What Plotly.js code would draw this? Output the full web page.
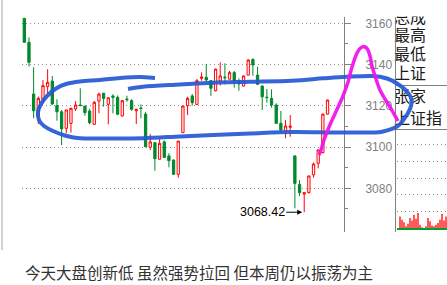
<!DOCTYPE html>
<html><head><meta charset="utf-8">
<script src="https://cdn.plot.ly/plotly-3.0.1.min.js"></script>
<style>html,body{margin:0;padding:0;background:#fff;}#chart{width:447px;height:285px;}</style>
</head><body><div id="chart"></div>
<script>
// ---- data ----
const openP  = [3162.4,3150.8,3125.7,3115.1,3123.2,3129.3,3132.0,3120.1,3117.1,3109.1,3111.5,3118.5,3120.4,3119.9,3117.5,3111.0,3122.3,3126.1,3120.7,3124.8,3124.1,3115.1,3123.3,3122.5,3117.6,3118.9,3116.0,3099.9,3102.1,3094.1,3102.5,3095.7,3093.7,3086.8,3107.0,3120.1,3124.8,3120.7,3133.3,3133.8,3132.2,3127.3,3132.0,3133.9,3132.9,3136.1,3132.2,3129.6,3134.9,3142.5,3134.9,3129.6,3124.2,3123.6,3120.4,3111.5,3107.9,3109.6,3095.7,3081.9,3077.2,3077.9,3086.5,3092.1,3097.3,3116.0];
const highP  = [3162.6,3153.2,3138.7,3124.5,3132.5,3137.7,3134.5,3123.2,3118.0,3118.0,3119.0,3122.3,3128.5,3120.0,3118.5,3122.3,3126.4,3126.3,3124.0,3125.6,3125.0,3122.8,3124.9,3123.2,3118.5,3120.7,3117.1,3106.3,3102.3,3103.9,3103.3,3097.0,3094.0,3103.0,3120.0,3124.4,3125.7,3133.0,3136.2,3140.3,3132.4,3138.0,3141.1,3140.6,3137.0,3137.0,3133.3,3134.7,3142.7,3143.0,3138.9,3129.8,3128.2,3128.0,3121.2,3117.5,3113.1,3115.5,3096.0,3084.0,3078.0,3086.2,3092.5,3098.8,3116.2,3123.0];
const lowP   = [3150.5,3139.0,3114.0,3111.2,3121.2,3126.1,3120.4,3112.8,3101.0,3106.7,3107.0,3117.5,3120.0,3115.2,3111.0,3110.8,3116.4,3119.6,3111.0,3116.4,3115.5,3114.8,3122.0,3117.6,3111.2,3113.9,3099.9,3098.6,3088.5,3094.0,3094.8,3090.2,3086.5,3085.1,3106.8,3115.5,3120.1,3120.5,3132.2,3131.7,3124.8,3127.0,3129.8,3130.4,3132.7,3128.8,3127.3,3129.4,3134.7,3134.6,3130.2,3118.0,3121.5,3119.1,3111.3,3106.7,3104.3,3105.0,3070.3,3076.3,3068.42,3077.5,3085.2,3089.7,3097.0,3115.8];
const closeP = [3150.8,3141.1,3117.6,3123.6,3129.8,3131.4,3120.9,3117.1,3108.8,3118.0,3118.8,3120.4,3120.1,3116.7,3111.8,3121.7,3125.7,3123.6,3123.9,3124.1,3115.9,3122.5,3123.0,3118.3,3118.3,3118.7,3100.2,3102.5,3094.4,3101.8,3095.0,3093.4,3086.8,3102.9,3119.9,3123.6,3121.5,3132.2,3134.0,3132.5,3128.5,3137.8,3134.5,3133.6,3136.1,3132.0,3130.6,3134.5,3142.2,3139.8,3130.4,3124.4,3124.0,3120.4,3111.5,3108.3,3110.2,3110.1,3082.4,3077.9,3077.9,3086.0,3091.8,3098.6,3116.0,3122.8];
const barIndex = openP.map((_, i) => i);
const yTickVals = [3080, 3100, 3120, 3140, 3160];
const yTickText = ['3080', '3100', '3120', '3140', '3160'];
const yMinorVals = [3070, 3090, 3110, 3130, 3150];
const lowIndex = 60;
const lowValue = 3068.42;
const lowLabel = '3068.42';
const volValues = [0, 0.7, 0.5, 0.35, 0.1, 0.25, 0.6, 0.45, 0.8, 0.55, 0.9, 0.2, 0.05, 0, 0.1, 0.6, 0.4, 0.15, 0.1, 0.2, 0.3, 0.5, 0.85, 0.45, 0.7];
const volIndex = volValues.map((_, i) => i);
const panelLabels = ['总成', '最高', '最低', '上证', '张家', '上证指'];
const caption = '今天大盘创新低 虽然强势拉回 但本周仍以振荡为主';

// ---- hand-drawn marker strokes (page pixels) ----
const blueStroke = [[155,78],[140,77],[120,78],[100,80],[80,81.5],[66,84],[56,88.5],[47,96],[41,104],[38,112],[39,120],[44,126],[53,131],[65,135.5],[80,138.3],[110,138.5],[143,138.2],[180,136.5],[213,135],[250,133.5],[292,132],[334,132.5],[372,132.5],[383,131.5],[397,126.5],[404,119],[410,109],[411.5,100],[407,91.5],[397,83.5],[387,78.5],[373,76],[347,76.7],[323,78.3],[292,80.7],[250,81.8],[213,82.7],[180,84.5],[143,86.7],[128,89]];
const pinkStroke = [[319,155],[321,150],[324,140],[329,127],[334,116],[339,105],[343,96],[348,82],[352,67],[357,53],[362,47],[367,48.5],[370,56],[372,66],[376,79],[380,90],[385,99],[390,107],[394,114],[398,121]];

function smoothPath(p){
  let d = 'M' + p[0][0] + ',' + p[0][1];
  for (let i = 0; i < p.length - 1; i++){
    const p0 = p[i-1] || p[i], p1 = p[i], p2 = p[i+1], p3 = p[i+2] || p[i+1];
    const c1 = [p1[0] + (p2[0]-p0[0])/6, p1[1] + (p2[1]-p0[1])/6];
    const c2 = [p2[0] - (p3[0]-p1[0])/6, p2[1] - (p3[1]-p1[1])/6];
    d += ' C' + c1[0].toFixed(2) + ',' + c1[1].toFixed(2) + ' ' + c2[0].toFixed(2) + ',' + c2[1].toFixed(2) + ' ' + p2[0] + ',' + p2[1];
  }
  return d;
}

const W = 447, H = 285;
const cjk = 'Noto Sans CJK SC, sans-serif';

const traces = [
  {
    type: 'candlestick', x: barIndex, open: openP, high: highP, low: lowP, close: closeP,
    xaxis: 'x', yaxis: 'y', whiskerwidth: 0,
    increasing: {line: {color: '#ff0000', width: 1}, fillcolor: '#ffffff'},
    decreasing: {line: {color: '#00892c', width: 1}, fillcolor: '#00892c'},
    hoverinfo: 'skip'
  },
  {
    type: 'bar', x: volIndex, y: volValues, xaxis: 'x2', yaxis: 'y2',
    marker: {color: '#ff0000', line: {width: 0}}, hoverinfo: 'skip'
  },
  {
    type: 'scatter', mode: 'text', xaxis: 'x3', yaxis: 'y3',
    x: panelLabels.map(() => 394),
    y: [18.5, 37, 55.5, 74.5, 98, 119.5],
    text: panelLabels, textposition: 'middle right',
    textfont: {family: cjk, size: 16, color: '#1a1a1a'},
    hoverinfo: 'skip', cliponaxis: false
  }
];

const layout = {
  width: W, height: H,
  margin: {l: 0, r: 0, t: 0, b: 0, pad: 0},
  paper_bgcolor: '#ffffff', plot_bgcolor: 'rgba(0,0,0,0)',
  showlegend: false, bargap: 0.35,
  xaxis: {
    domain: [22/W, 344/W], range: [-0.493, 68.53], anchor: 'y',
    showgrid: false, zeroline: false, showticklabels: false, ticks: '', showline: false,
    rangeslider: {visible: false}, fixedrange: true
  },
  yaxis: {
    domain: [1 - 232/H, 1 - 17/H], range: [3058.83, 3163.06], side: 'right', anchor: 'x',
    showline: true, linecolor: '#808080', linewidth: 1,
    ticks: 'outside', ticklen: 6, tickcolor: '#808080', tickwidth: 1,
    tickmode: 'array', tickvals: yTickVals, ticktext: yTickText,
    tickfont: {family: 'Liberation Sans, Arial, sans-serif', size: 12, color: '#808080'},
    ticklabelstandoff: 12,
    showgrid: true, gridcolor: '#8a8a8a', gridwidth: 1, griddash: '1px,3px',
    zeroline: false,
    minor: {tickmode: 'array', tickvals: yMinorVals, ticks: 'outside', ticklen: 3, tickcolor: '#808080', showgrid: false},
    fixedrange: true
  },
  xaxis2: {
    domain: [397/W, 1], range: [-0.5, volValues.length - 0.5], anchor: 'y2',
    showgrid: false, zeroline: false, showticklabels: false, ticks: '',
    showline: true, linecolor: '#00a030', linewidth: 1.5, fixedrange: true
  },
  yaxis2: {
    domain: [1 - 228/H, 1 - 140/H], range: [0, 5.3], anchor: 'x2',
    showticklabels: false, ticks: '', zeroline: false, showline: false,
    dtick: 1, tick0: 0, showgrid: true, gridcolor: '#8a8a8a', griddash: '1px,3px', fixedrange: true
  },
  xaxis3: {domain: [0, 1], range: [0, W], anchor: 'y3', visible: false, fixedrange: true},
  yaxis3: {domain: [0, 1], range: [H, 0], anchor: 'x3', visible: false, fixedrange: true},
  shapes: [
    {type: 'line', xref: 'x3', yref: 'y3', x0: 2, x1: 2, y0: 0, y1: 250, line: {color: '#d2d2d2', width: 2}, layer: 'above'},
    {type: 'line', xref: 'x3', yref: 'y3', x0: 395.5, x1: 395.5, y0: 17, y1: 232, line: {color: '#808080', width: 1}, layer: 'above'},
    {type: 'line', xref: 'x3', yref: 'y3', x0: 395.5, x1: 447, y0: 85.5, y1: 85.5, line: {color: '#808080', width: 1}, layer: 'above'},
    {type: 'line', xref: 'x3', yref: 'y3', x0: 395.5, x1: 447, y0: 129.5, y1: 129.5, line: {color: '#808080', width: 1}, layer: 'above'},
    {type: 'rect', xref: 'x3', yref: 'y3', x0: 396, x1: 447, y0: 0, y1: 16.5, fillcolor: '#ffffff', line: {width: 0}, layer: 'above'},
    {type: 'path', xref: 'x3', yref: 'y3', path: smoothPath(blueStroke), line: {color: 'rgba(38,88,212,0.92)', width: 4}, layer: 'above'},
    {type: 'path', xref: 'x3', yref: 'y3', path: smoothPath(pinkStroke), line: {color: 'rgba(240,20,235,0.95)', width: 3.5}, layer: 'above'}
  ],
  annotations: [
    {
      xref: 'x', yref: 'y', x: lowIndex, y: lowValue, text: lowLabel,
      showarrow: true, ax: -42, ay: 0, arrowhead: 2, arrowsize: 1, arrowwidth: 1, arrowcolor: '#000',
      standoff: 2, font: {family: 'Liberation Sans, Arial, sans-serif', size: 12.5, color: '#000'}
    },
    {
      xref: 'paper', yref: 'paper', x: 23/W, y: 1 - 272/H, xanchor: 'left', yanchor: 'middle',
      text: caption, showarrow: false, font: {family: cjk, size: 15.5, color: '#333333'}
    }
  ]
};

Plotly.newPlot('chart', traces, layout, {displayModeBar: false, staticPlot: true});
</script>
</body></html>
